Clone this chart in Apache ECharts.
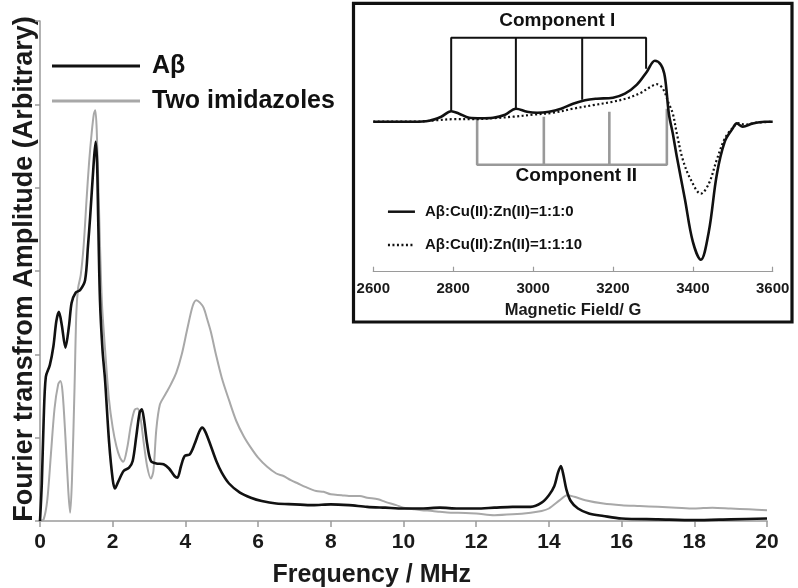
<!DOCTYPE html>
<html>
<head>
<meta charset="utf-8">
<script src="https://cdn.jsdelivr.net/npm/echarts@6/dist/echarts.min.js"></script>
<style>html,body{margin:0;padding:0;background:#fff;}#c{width:798px;height:588px;}</style>
</head>
<body>
<div id="c"></div>
<script>
// ---- Main chart data (Frequency / MHz vs amplitude, arbitrary units) ----
const abFreq = [0,0.05,0.1,0.16,0.27,0.37,0.45,0.52,0.6,0.7,0.8,0.87,0.98,1.1,1.24,1.32,1.38,1.47,1.53,1.57,1.6,1.65,1.72,1.79,1.9,2.0,2.06,2.15,2.3,2.45,2.55,2.65,2.74,2.8,2.86,2.95,3.05,3.2,3.4,3.55,3.7,3.78,3.88,3.98,4.12,4.25,4.38,4.46,4.55,4.7,4.85,5.0,5.2,5.5,5.8,6.1,6.5,7.0,7.5,8.0,8.5,9.0,9.5,10.0,10.5,11.0,11.5,12.0,12.5,13.0,13.5,13.8,14.0,14.15,14.25,14.33,14.4,14.48,14.6,14.8,15.1,15.5,16.0,17.0,18.0,19.0,20.0];
const abAmp  = [0,0.45,1.2,1.73,1.87,2.1,2.4,2.51,2.35,2.08,2.35,2.62,2.74,2.77,2.89,3.3,3.65,4.25,4.55,4.3,3.65,2.65,2.05,1.69,0.95,0.5,0.39,0.47,0.6,0.64,0.72,1.02,1.3,1.34,1.22,0.92,0.72,0.69,0.68,0.63,0.54,0.52,0.66,0.78,0.8,0.92,1.07,1.12,1.07,0.9,0.72,0.58,0.45,0.34,0.28,0.24,0.21,0.2,0.19,0.2,0.19,0.17,0.16,0.15,0.15,0.16,0.15,0.15,0.16,0.17,0.17,0.22,0.31,0.42,0.58,0.66,0.55,0.38,0.24,0.15,0.09,0.06,0.03,0.02,0.01,0.02,0.03];

const imFreq = [0,0.1,0.2,0.3,0.4,0.5,0.56,0.62,0.7,0.78,0.83,0.88,0.95,1.0,1.05,1.12,1.2,1.28,1.35,1.42,1.48,1.52,1.56,1.62,1.7,1.8,1.9,2.0,2.1,2.2,2.29,2.4,2.5,2.6,2.68,2.76,2.85,2.95,3.05,3.12,3.2,3.3,3.45,3.6,3.75,3.9,4.05,4.2,4.3,4.4,4.5,4.6,4.7,4.85,5.0,5.2,5.4,5.6,5.8,6.0,6.25,6.5,6.7,6.9,7.1,7.3,7.6,7.8,8.0,8.3,8.5,8.8,9.0,9.3,9.5,9.8,10.0,10.3,10.5,10.8,11.0,11.3,11.5,12.0,12.5,13.0,13.5,13.8,14.0,14.3,14.5,14.7,15.0,15.5,16.0,16.5,17.0,17.5,18.0,18.5,19.0,19.5,20.0];
const imAmp  = [0,0.02,0.25,0.8,1.35,1.64,1.68,1.55,1.0,0.35,0.1,0.5,1.6,2.5,2.8,2.95,3.3,3.85,4.3,4.65,4.88,4.93,4.7,3.8,2.65,2.0,1.45,1.12,0.9,0.76,0.71,0.88,1.15,1.33,1.35,1.25,0.95,0.65,0.51,0.6,1.1,1.4,1.52,1.64,1.78,2.0,2.3,2.58,2.65,2.62,2.56,2.42,2.27,1.98,1.72,1.45,1.2,1.02,0.88,0.76,0.65,0.57,0.54,0.49,0.45,0.41,0.36,0.35,0.32,0.31,0.3,0.3,0.28,0.26,0.23,0.19,0.16,0.14,0.13,0.12,0.11,0.1,0.1,0.09,0.07,0.08,0.1,0.12,0.15,0.25,0.31,0.29,0.25,0.21,0.19,0.18,0.17,0.16,0.15,0.16,0.15,0.14,0.13];

// ---- Inset data (Magnetic Field / G vs EPR signal, arbitrary units) ----
const solidField = [2600,2650,2700,2740,2770,2795,2815,2840,2870,2900,2930,2957,2985,3010,3040,3070,3100,3130,3160,3200,3230,3260,3285,3305,3320,3330,3340,3350,3360,3380,3400,3420,3440,3460,3480,3500,3510,3525,3550,3580,3600];
const solidSignal = [0,0,0,1,5,10.5,8,4,3.5,4,7,13,10,9,10,13,18,21.5,23,24,28,37,50,61,57,45,8,-12,-35,-77,-120,-138,-110,-53,-20,-6.7,-1.7,-5,-1.7,0,0];
const dottedField = [2600,2700,2760,2800,2850,2900,2950,3000,3050,3100,3150,3200,3240,3270,3295,3310,3325,3340,3350,3360,3375,3395,3420,3440,3460,3480,3500,3515,3530,3545,3560,3600];
const dottedSignal = [0,0,1.5,2.5,2.5,3.5,5,7,9,13,16.5,20,24,29,35,37.5,33,18,8,-12,-38,-58,-72,-62,-38,-17,-6,-1.5,-3,-2,-1,0];

// hyperfine stick positions
const compIField = [2795,2957,3123,3283];
const compIEnd = [10,13,22,53];
const compILevel = 84;
const compIIField = [2860,3027,3191,3335];
const compIIEnd = [3.3,5,10,13];
const compIILevel = -43;

const mainXTicks = {min:0, max:20, interval:2};
const insetXTicks = {min:2600, max:3600, interval:200};

const FONT = "'Liberation Sans', Arial, Helvetica, sans-serif";

function zip(a,b){return a.map((v,i)=>[v,b[i]]);}
function bracket(f, e, lvl){
  const p=[[f[0],e[0]],[f[0],lvl]];
  for(let i=1;i<f.length;i++){
    p.push([f[i],lvl],[f[i],e[i]]);
    if(i<f.length-1) p.push([f[i],lvl]);
  }
  return p;
}

const chart = echarts.init(document.getElementById('c'), null, {renderer:'canvas'});
const axisGray = '#9a9a9a';

chart.setOption({
  animation:false,
  backgroundColor:'#fff',
  textStyle:{fontFamily:FONT},
  grid:[
    {left:40, right:31, top:21, bottom:67},
    {left:373.3, width:399.4, top:21.7, height:250}
  ],
  xAxis:[
    {gridIndex:0, type:'value', min:mainXTicks.min, max:mainXTicks.max, interval:mainXTicks.interval,
     axisLine:{onZero:false,lineStyle:{color:axisGray,width:1.5}},
     axisTick:{show:true,inside:false,length:6,lineStyle:{color:axisGray,width:1.5}},
     axisLabel:{margin:11,color:'#1a1a1a',fontSize:21,fontWeight:'bold',fontFamily:FONT},
     splitLine:{show:false}},
    {gridIndex:1, type:'value', min:insetXTicks.min, max:insetXTicks.max, interval:insetXTicks.interval,
     axisLine:{onZero:false,lineStyle:{color:axisGray,width:1.2}},
     axisTick:{show:true,inside:true,length:5,lineStyle:{color:axisGray,width:1.2}},
     axisLabel:{margin:10,color:'#1a1a1a',fontSize:15,fontWeight:'bold',fontFamily:FONT,formatter:(v)=>String(v)},
     name:'Magnetic Field/ G', nameLocation:'middle', nameGap:30,
     nameTextStyle:{color:'#1a1a1a',fontSize:16.5,fontWeight:'bold',fontFamily:FONT},
     splitLine:{show:false}}
  ],
  yAxis:[
    {gridIndex:0, type:'value', min:0, max:6, interval:1,
     axisLine:{show:true,onZero:false,lineStyle:{color:axisGray,width:1.5}},
     axisTick:{show:true,inside:false,length:5,lineStyle:{color:axisGray,width:1.5}},
     axisLabel:{show:false}, splitLine:{show:false}},
    {gridIndex:1, type:'value', min:-150, max:100, show:false, splitLine:{show:false}}
  ],
  legend:[
    {data:['Aβ','Two imidazoles'], orient:'vertical', left:52, top:53.5, padding:0, icon:'rect',
     itemWidth:88, itemHeight:3, itemGap:10, selectedMode:false,
     textStyle:{fontSize:25,fontWeight:'bold',color:'#111',lineHeight:25,padding:[0,0,0,7],fontFamily:FONT}},
    {data:['Aβ:Cu(II):Zn(II)=1:1:0','Aβ:Cu(II):Zn(II)=1:1:10'], orient:'vertical', left:386.7, top:203.7, padding:0,
     itemWidth:27, itemHeight:16, itemGap:17.3, selectedMode:false,
     itemStyle:{opacity:0},
     lineStyle:{width:2.5},
     textStyle:{fontSize:15,fontWeight:'bold',color:'#111',lineHeight:16,padding:[0,0,0,5],fontFamily:FONT}}
  ],
  series:[
    {name:'Two imidazoles', type:'line', xAxisIndex:0, yAxisIndex:0, data:zip(imFreq,imAmp),
     symbol:'none', smooth:0.3, color:'#a8a8a8', itemStyle:{color:'#a8a8a8'},
     lineStyle:{color:'#a8a8a8',width:2}, z:2},
    {name:'Aβ', type:'line', xAxisIndex:0, yAxisIndex:0, data:zip(abFreq,abAmp),
     symbol:'none', smooth:0.3, color:'#111', itemStyle:{color:'#111'},
     lineStyle:{color:'#111',width:2.6}, z:3},
    {name:'Aβ:Cu(II):Zn(II)=1:1:10', type:'line', xAxisIndex:1, yAxisIndex:1, data:zip(dottedField,dottedSignal),
     symbol:'none', smooth:0.35, color:'#111', itemStyle:{color:'#111'},
     lineStyle:{color:'#111',width:2.2,type:[2,2.5]}, z:3},
    {name:'Aβ:Cu(II):Zn(II)=1:1:0', type:'line', xAxisIndex:1, yAxisIndex:1, data:zip(solidField,solidSignal),
     symbol:'none', smooth:0.35, color:'#111', itemStyle:{color:'#111'},
     lineStyle:{color:'#111',width:2.6}, z:4},
    {name:'Component I', type:'line', xAxisIndex:1, yAxisIndex:1, data:bracket(compIField,compIEnd,compILevel),
     symbol:'none', smooth:false, lineStyle:{color:'#111',width:2}, z:2},
    {name:'Component II', type:'line', xAxisIndex:1, yAxisIndex:1, data:bracket(compIIField,compIIEnd,compIILevel),
     symbol:'none', smooth:false, lineStyle:{color:'#999',width:2.6}, z:2}
  ],
  graphic:[
    {type:'rect', shape:{x:353.5,y:3.3,width:438.5,height:318.7}, style:{fill:'none',stroke:'#111',lineWidth:3.2}, z:10},
    {type:'text', x:557.3, y:21, style:{text:'Component I', fontSize:19, fontWeight:'bold', fontFamily:FONT, fill:'#111', textAlign:'center', textVerticalAlign:'middle'}},
    {type:'text', x:576.3, y:175.5, style:{text:'Component II', fontSize:19, fontWeight:'bold', fontFamily:FONT, fill:'#111', textAlign:'center', textVerticalAlign:'middle'}},
    {type:'text', x:371.7, y:575, style:{text:'Frequency / MHz', fontSize:25, fontWeight:'bold', fontFamily:FONT, fill:'#1a1a1a', textAlign:'center', textVerticalAlign:'middle'}},
    {type:'text', x:25, y:269, rotation:Math.PI/2, style:{text:'Fourier transfrom Amplitude (Arbitrary)', fontSize:27, fontWeight:'bold', fontFamily:FONT, fill:'#1a1a1a', textAlign:'center', textVerticalAlign:'middle'}}
  ]
});
</script>
</body>
</html>
